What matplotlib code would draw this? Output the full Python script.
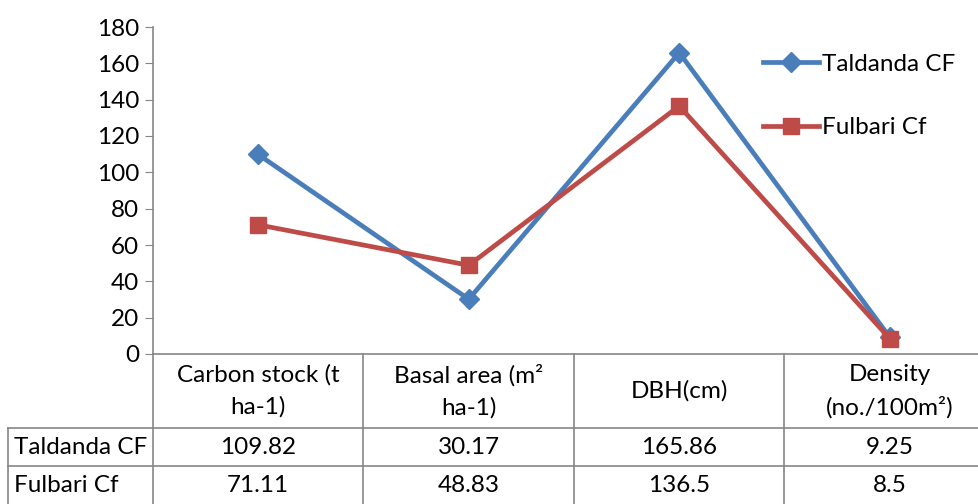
import matplotlib.pyplot as plt
from matplotlib.transforms import blended_transform_factory

# chart data
categories = ['Carbon stock (t\nha-1)', 'Basal area (m\u00b2\nha-1)', 'DBH(cm)', 'Density\n(no./100m\u00b2)']
taldanda = [109.82, 30.17, 165.86, 9.25]
fulbari = [71.11, 48.83, 136.5, 8.5]
series_names = ['Taldanda CF', 'Fulbari Cf']
value_labels = [['109.82', '30.17', '165.86', '9.25'], ['71.11', '48.83', '136.5', '8.5']]
yticks = list(range(0, 181, 20))

plt.rcParams['font.family'] = ['Lato', 'DejaVu Sans']
FS = 17.5
GRID = '#868686'

fig = plt.figure(figsize=(9.79, 5.04), dpi=100)
W, H = 979, 504
# plot area runs a bit past the right edge of the canvas
ax = fig.add_axes([153 / W, 150 / H, 842 / W, 327 / H])

x = list(range(len(categories)))
ax.plot(x, taldanda, color='#4A7EBB', lw=3.4, marker='D', ms=10, label=series_names[0], zorder=3)
ax.plot(x, fulbari, color='#BE4B48', lw=3.4, marker='s', ms=11, label=series_names[1], zorder=3)

ax.set_xlim(-0.5, len(categories) - 0.5)
ax.set_ylim(0, 180)
ax.set_yticks(yticks)
ax.tick_params(axis='y', labelsize=FS, length=6, color=GRID, pad=4)
ax.set_xticks([])
for s in ['top', 'right']:
    ax.spines[s].set_visible(False)
for s in ['left', 'bottom']:
    ax.spines[s].set_color(GRID)
    ax.spines[s].set_linewidth(1.2)

# data table under the axis
tr = blended_transform_factory(ax.transData, ax.transAxes)
px = 1 / 327.0
head_h = 74 * px
row_h = 38 * px
label_left = -0.5 - 145 / 210.5
bottom = -(150 * px)
line_kw = dict(color=GRID, lw=1.2, transform=tr, clip_on=False)

for b in [0.5, 1.5, 2.5, 3.5]:
    ax.plot([b, b], [0, bottom], **line_kw)
ax.plot([-0.5, -0.5], [0, bottom], **line_kw)
ax.plot([label_left, label_left], [-head_h, bottom], **line_kw)
for k in range(2):
    yy = -head_h - k * row_h
    ax.plot([label_left, 3.5], [yy, yy], **line_kw)

for i, cat in enumerate(categories):
    ax.text(i, -head_h / 2, cat, transform=tr, ha='center', va='center',
            fontsize=FS, linespacing=1.6)
for r, name in enumerate(series_names):
    yc = -head_h - (r + 0.5) * row_h
    ax.text(label_left + 0.03, yc, name, transform=tr, ha='left', va='center', fontsize=FS)
    for i, lab in enumerate(value_labels[r]):
        ax.text(i, yc, lab, transform=tr, ha='center', va='center', fontsize=FS)

fig.legend(loc='upper left', bbox_to_anchor=(741 / W, 1 - 32 / H), frameon=False,
           fontsize=FS, handlelength=2.3, labelspacing=1.75, handletextpad=0.15)

fig.savefig('out.png', dpi=100)
